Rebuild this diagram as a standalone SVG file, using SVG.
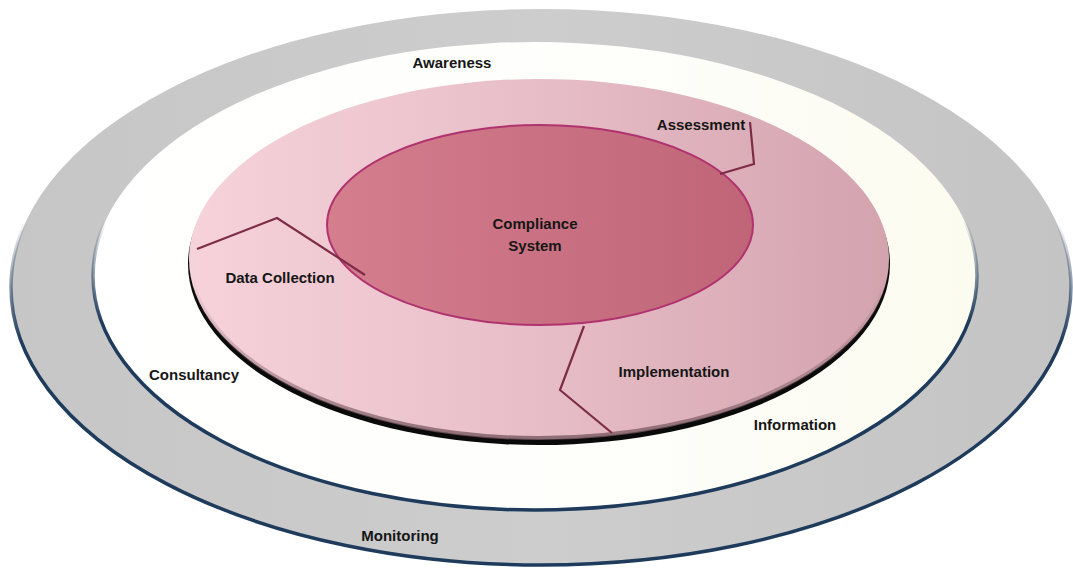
<svg xmlns="http://www.w3.org/2000/svg" width="1073" height="573" viewBox="0 0 1073 573">
  <defs>
    <linearGradient id="gGray" x1="0" y1="0" x2="1" y2="0">
      <stop offset="0" stop-color="#c6c6c6"/>
      <stop offset="0.5" stop-color="#cdcdcd"/>
      <stop offset="1" stop-color="#c4c4c4"/>
    </linearGradient>
    <linearGradient id="gWhite" x1="0" y1="0" x2="1" y2="0">
      <stop offset="0" stop-color="#ffffff"/>
      <stop offset="0.6" stop-color="#fefefb"/>
      <stop offset="1" stop-color="#fbfbef"/>
    </linearGradient>
    <linearGradient id="gEdge" x1="0" y1="0" x2="0" y2="1">
      <stop offset="0" stop-color="#1f3b5c" stop-opacity="0"/>
      <stop offset="0.38" stop-color="#1f3b5c" stop-opacity="0"/>
      <stop offset="0.6" stop-color="#1f3b5c" stop-opacity="1"/>
      <stop offset="1" stop-color="#1f3b5c" stop-opacity="1"/>
    </linearGradient>
    <linearGradient id="gPink" x1="0" y1="0" x2="1" y2="0">
      <stop offset="0" stop-color="#f6d2da"/>
      <stop offset="0.45" stop-color="#e9c0c9"/>
      <stop offset="1" stop-color="#d3a3ae"/>
    </linearGradient>
    <linearGradient id="gRim" x1="0" y1="0" x2="0" y2="1">
      <stop offset="0" stop-color="#8a6a72" stop-opacity="0"/>
      <stop offset="0.55" stop-color="#8a6a72" stop-opacity="0"/>
      <stop offset="1" stop-color="#7a5a62" stop-opacity="0.8"/>
    </linearGradient>
    <linearGradient id="gCore" x1="0" y1="0" x2="1" y2="0">
      <stop offset="0" stop-color="#d47e8e"/>
      <stop offset="1" stop-color="#bf6577"/>
    </linearGradient>
    <style>
      .lbl { font-family: "Liberation Sans", Arial, sans-serif; font-weight: bold; font-size: 15px; fill: #161616; text-anchor: middle; }
      .lead { fill: none; stroke: #7d2c48; stroke-width: 2.2; stroke-linejoin: miter; }
    </style>
  </defs>

  <!-- outer ring: Monitoring -->
  <g id="ring-monitoring">
    <ellipse cx="541" cy="287" rx="530" ry="278" fill="url(#gGray)" stroke="url(#gEdge)" stroke-width="3.5"/>
    <text class="lbl" x="400" y="541">Monitoring</text>
  </g>

  <!-- second ring: Awareness / Consultancy / Information -->
  <g id="ring-awareness">
    <ellipse cx="535" cy="276" rx="442" ry="234" fill="url(#gWhite)" stroke="url(#gEdge)" stroke-width="3.5"/>
    <text class="lbl" x="452" y="68">Awareness</text>
    <text class="lbl" x="194" y="380">Consultancy</text>
    <text class="lbl" x="795" y="430">Information</text>
  </g>

  <!-- pink disc with dark base -->
  <g id="disc-process">
    <ellipse cx="539" cy="264" rx="351" ry="181" fill="#0a0a0a"/>
    <ellipse cx="539" cy="259" rx="350" ry="180" fill="url(#gPink)"/>
    <ellipse cx="539" cy="259" rx="349" ry="179" fill="none" stroke="url(#gRim)" stroke-width="4"/>
    <text class="lbl" x="701" y="130">Assessment</text>
    <text class="lbl" x="280" y="283">Data Collection</text>
    <text class="lbl" x="674" y="377">Implementation</text>
  </g>

  <!-- core -->
  <g id="core-compliance">
    <ellipse cx="540" cy="225" rx="213" ry="100" fill="url(#gCore)" stroke="#b0336f" stroke-width="2"/>
    <text class="lbl" x="535" y="229">Compliance</text>
    <text class="lbl" x="535" y="251">System</text>
  </g>

  <!-- sector dividers -->
  <g id="connectors">
    <polyline class="lead" points="197,249 277,218 365,275"/>
    <polyline class="lead" points="750,122 754,164 720,174"/>
    <polyline class="lead" points="584,326 560,390 612,433"/>
  </g>
</svg>
